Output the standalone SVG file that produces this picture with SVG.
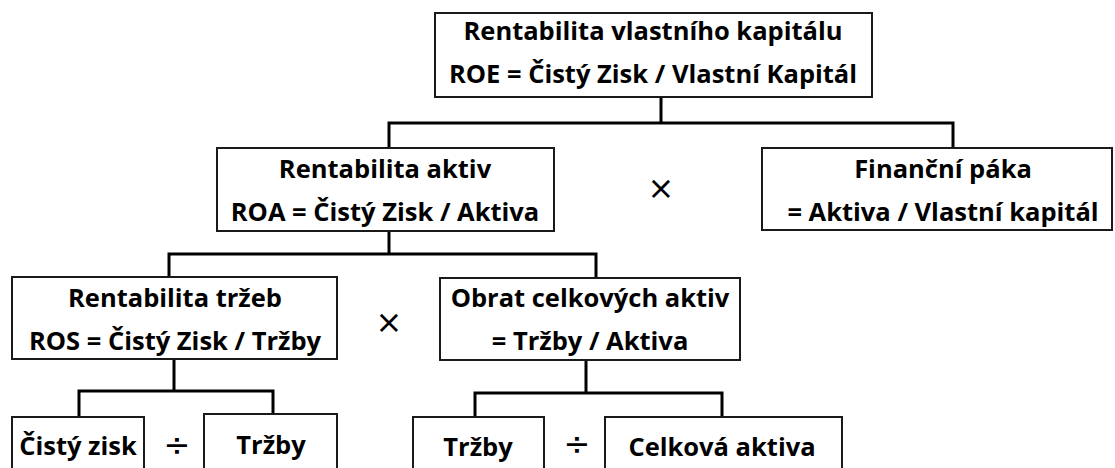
<svg xmlns="http://www.w3.org/2000/svg" width="1115" height="468" viewBox="0 0 1115 468">
<style>
.box{fill:#fff;stroke:#1a1a1a;stroke-width:2}
.t{font-family:"Open Sans","Liberation Sans",sans-serif;font-weight:bold;font-size:25.5px;fill:#000;text-anchor:middle}
.op{font-family:"DejaVu Sans","Liberation Sans",sans-serif;font-size:32px;fill:#000;text-anchor:middle}
.c{fill:none;stroke:#000;stroke-width:3}
</style>
<rect width="1115" height="468" fill="#fff"/>
<g id="connectors">
<polyline class="c" points="661,97 661,123"/>
<polyline class="c" points="389,148 389,123 953,123 953,148"/>
<polyline class="c" points="389,231 389,254"/>
<polyline class="c" points="169,277 169,254 596,254 596,278"/>
<polyline class="c" points="174,359 174,391"/>
<polyline class="c" points="79,417 79,391 273,391 273,414"/>
<polyline class="c" points="586,360 586,393"/>
<polyline class="c" points="475,417 475,393 722,393 722,417"/>
</g>
<g id="roe">
<rect class="box" x="435" y="13" width="437" height="84"/>
<text class="t" x="653" y="40">Rentabilita vlastního kapitálu</text>
<text class="t" x="653" y="83">ROE = Čistý Zisk / Vlastní Kapitál</text>
</g>
<g id="roa">
<rect class="box" x="217" y="148" width="337" height="83"/>
<text class="t" x="385" y="178">Rentabilita aktiv</text>
<text class="t" x="385" y="221">ROA = Čistý Zisk / Aktiva</text>
</g>
<g id="op1"><text class="op" x="661" y="199">×</text></g>
<g id="fin">
<rect class="box" x="762" y="148" width="350" height="82"/>
<text class="t" x="943" y="178">Finanční páka</text>
<text class="t" x="943" y="221">= Aktiva / Vlastní kapitál</text>
</g>
<g id="ros">
<rect class="box" x="12" y="277" width="325" height="82"/>
<text class="t" x="175" y="307">Rentabilita tržeb</text>
<text class="t" x="175" y="350">ROS = Čistý Zisk / Tržby</text>
</g>
<g id="op2"><text class="op" x="389" y="333">×</text></g>
<g id="obrat">
<rect class="box" x="440" y="278" width="300" height="82"/>
<text class="t" x="590" y="307">Obrat celkových aktiv</text>
<text class="t" x="590" y="350">= Tržby / Aktiva</text>
</g>
<g id="zisk">
<rect class="box" x="12" y="417" width="132" height="60"/>
<text class="t" x="78" y="455">Čistý zisk</text>
</g>
<g id="op3"><text class="op" x="177" y="456">÷</text></g>
<g id="trzby1">
<rect class="box" x="204" y="414" width="133" height="62"/>
<text class="t" x="271" y="454">Tržby</text>
</g>
<g id="trzby2">
<rect class="box" x="413" y="417" width="131" height="58"/>
<text class="t" x="478" y="456">Tržby</text>
</g>
<g id="op4"><text class="op" x="577" y="455">÷</text></g>
<g id="aktiva">
<rect class="box" x="605" y="417" width="237" height="58"/>
<text class="t" x="722" y="456">Celková aktiva</text>
</g>
</svg>
